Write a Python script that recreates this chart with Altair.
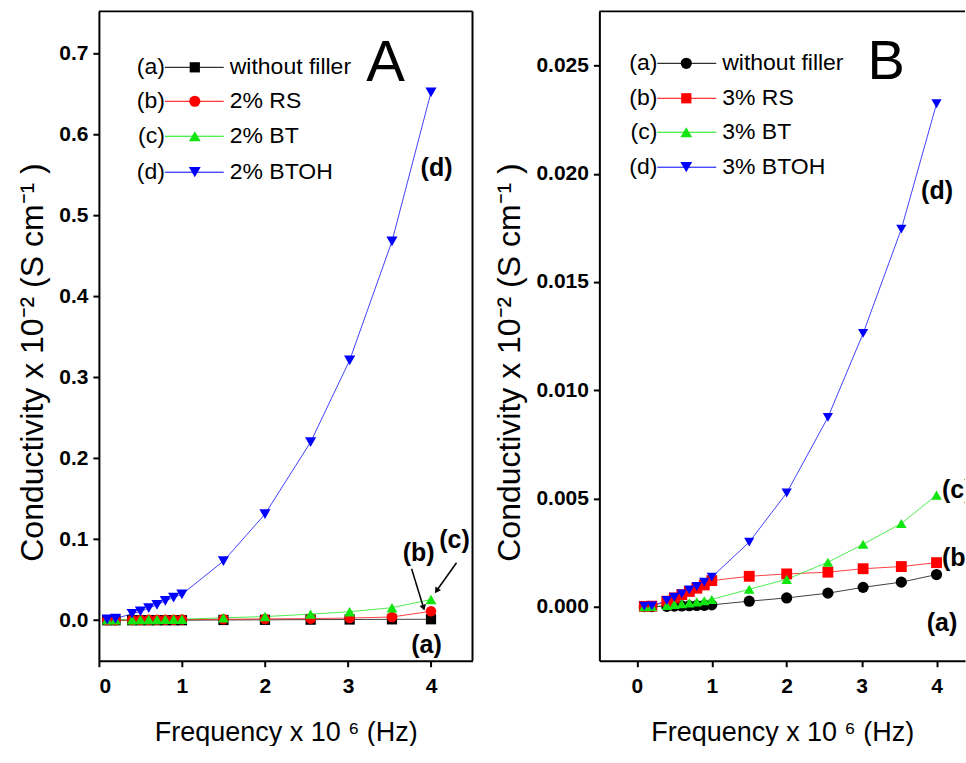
import altair as alt
import pandas as pd

# ---------------- data ----------------
freq = [0.1, 0.2, 0.4, 0.5, 0.6, 0.7, 0.8, 0.9, 1.0, 1.5, 2.0, 2.55, 3.02, 3.53, 4.0]

tags = ["(a)", "(b)", "(c)", "(d)"]
names_a = ["without filler", "2% RS", "2% BT", "2% BTOH"]
names_b = ["without filler", "3% RS", "3% BT", "3% BTOH"]

a_without = [0.0, 0.0, 0.0, 0.0, 0.0, 0.0, 0.0, 0.0, 0.0, 0.0003, 0.0005, 0.0007, 0.0009, 0.0011, 0.0012]
a_rs = [0.0, 0.0, 0.0002, 0.0003, 0.0004, 0.0005, 0.0006, 0.0007, 0.0008, 0.0012, 0.0016, 0.002, 0.0027, 0.004, 0.011]
a_bt = [0.0005, 0.0005, 0.0006, 0.0007, 0.0008, 0.0009, 0.001, 0.0011, 0.0012, 0.003, 0.0045, 0.0075, 0.0105, 0.0155, 0.0255]
a_btoh = [0.001, 0.002, 0.008, 0.011, 0.015, 0.019, 0.024, 0.028, 0.032, 0.073, 0.131, 0.220, 0.321, 0.468, 0.652]

b_without = [0.0, 0.0, 0.00001, 0.00002, 0.00003, 0.00004, 0.00005, 0.00006, 0.00008, 0.00025, 0.0004, 0.00062, 0.00089, 0.00113, 0.00148]
b_rs = [0.00001, 0.00002, 0.00025, 0.0004, 0.00055, 0.0007, 0.00085, 0.001, 0.0012, 0.0014, 0.00151, 0.00159, 0.00175, 0.00185, 0.00203]
b_bt = [0.0, 0.00001, 0.00005, 0.0001, 0.00013, 0.00017, 0.00022, 0.00027, 0.00033, 0.0008, 0.00126, 0.00205, 0.00288, 0.00384, 0.00515]
b_btoh = [0.00002, 0.00003, 0.00028, 0.00043, 0.00059, 0.00077, 0.00093, 0.00113, 0.00136, 0.00298, 0.00525, 0.00874, 0.01262, 0.01744, 0.02323]

colors = ["#000000", "#ff0000", "#11e611", "#0000ff"]
shapes_a = ["square", "circle", "triangle-up", "triangle-down"]
shapes_b = ["circle", "square", "triangle-up", "triangle-down"]

FONT = "Liberation Sans"
W_A, W_B, H = 374, 366, 650


def long_df(series, names):
    rows = []
    for name, vals in zip(names, series):
        for f, v in zip(freq, vals):
            rows.append({"freq": f, "cond": v, "series": name})
    return pd.DataFrame(rows)


dummy = pd.DataFrame({"k": [0]})


def txt(text, x, y, size, align="center", baseline="alphabetic", weight="normal", clip=False):
    return alt.Chart(dummy).mark_text(
        text=text, align=align, baseline=baseline, font=FONT, fontSize=size,
        fontWeight=weight, color="black", clip=clip
    ).encode(x=alt.value(x), y=alt.value(y))


def legend_layers(names, shapes, sizes, rows_y, tag_right, lx0, lx1, mx, label_x):
    out = []
    for i in range(4):
        y = rows_y[i]
        base = alt.Chart(dummy)
        out.append(base.mark_rule(color=colors[i], strokeWidth=1).encode(
            x=alt.value(lx0), x2=alt.value(lx1), y=alt.value(y)))
        out.append(base.mark_point(shape=shapes[i], filled=True, color=colors[i],
                                   size=sizes[i], opacity=1).encode(x=alt.value(mx), y=alt.value(y)))
        out.append(txt(tags[i], tag_right, y, 23, align="right", baseline="middle"))
        out.append(txt(names[i], label_x, y, 23, align="left", baseline="middle"))
    return out


def panel(df, names, shapes, sizes, xdom, ydom, yvals, yfmt, W, right_frame, extra):
    xenc = alt.X("freq:Q", scale=alt.Scale(domain=xdom, nice=False, zero=False),
                 axis=alt.Axis(values=[0, 1, 2, 3, 4], format="d", title="Frequency x 10 \u2076 (Hz)"))
    yenc = alt.Y("cond:Q", scale=alt.Scale(domain=ydom, nice=False, zero=False),
                 axis=alt.Axis(values=yvals, format=yfmt, titleY=351,
                               title="Conductivity x 10\u207b\u00b2 (S cm\u207b\u00b9 )"))
    col = alt.Color("series:N", scale=alt.Scale(domain=names, range=colors), legend=None)
    shp = alt.Shape("series:N", scale=alt.Scale(domain=names, range=shapes), legend=None)
    siz = alt.Size("series:N", scale=alt.Scale(domain=names, range=sizes), legend=None)
    lines = alt.Chart(df).mark_line(strokeWidth=1, opacity=0.75).encode(x=xenc, y=yenc, color=col)
    pts = alt.Chart(df).mark_point(filled=True, opacity=1).encode(x=xenc, y=yenc, color=col, shape=shp, size=siz)
    layers = [lines, pts]
    layers.append(alt.Chart(dummy).mark_rule(color="black", strokeWidth=2).encode(
        x=alt.value(0), x2=alt.value(W), y=alt.value(0)))
    if right_frame:
        layers.append(alt.Chart(dummy).mark_rule(color="black", strokeWidth=2).encode(
            x=alt.value(W), y=alt.value(0), y2=alt.value(H)))
    layers += extra
    return alt.layer(*layers).properties(width=W, height=H)


df_a = long_df([a_without, a_rs, a_bt, a_btoh], names_a)
df_b = long_df([b_without, b_rs, b_bt, b_btoh], names_b)

sizes_a = [105, 125, 140, 140]
sizes_b = [125, 105, 140, 140]

extra_a = legend_layers(names_a, shapes_a, sizes_a, [56, 90, 125, 161], 66, 66, 125, 96, 131)
extra_a += [
    txt("A", 287, 70, 58),
    txt("(d)", 338, 165, 25, weight="bold"),
    txt("(b)", 320, 550, 25, weight="bold"),
    txt("(c)", 356, 537, 25, weight="bold"),
    txt("(a)", 328, 642, 25, weight="bold"),
    alt.Chart(dummy).mark_rule(color="black", strokeWidth=1.5).encode(
        x=alt.value(313), y=alt.value(558), x2=alt.value(325), y2=alt.value(597)),
    alt.Chart(dummy).mark_rule(color="black", strokeWidth=1.5).encode(
        x=alt.value(358), y=alt.value(552), x2=alt.value(338), y2=alt.value(580)),
    alt.Chart(dummy).mark_point(shape="triangle-up", filled=True, color="black", size=45,
                                opacity=1, angle=163).encode(x=alt.value(325), y=alt.value(597)),
    alt.Chart(dummy).mark_point(shape="triangle-up", filled=True, color="black", size=45,
                                opacity=1, angle=215).encode(x=alt.value(338), y=alt.value(580)),
]

extra_b = legend_layers(names_b, shapes_b, sizes_b, [52, 87, 121, 156], 58, 58, 117, 87, 123)
extra_b += [
    txt("B", 287, 68, 56),
    txt("(d)", 338, 188, 25, weight="bold"),
    txt("(c)", 343, 487, 25, align="left", weight="bold", clip=True),
    txt("(b)", 343, 555, 25, align="left", weight="bold", clip=True),
    txt("(a)", 343, 620, 25, weight="bold"),
]

pa = panel(df_a, names_a, shapes_a, sizes_a, [0, 4.5], [-0.05, 0.752],
           [0, 0.1, 0.2, 0.3, 0.4, 0.5, 0.6, 0.7], ".1f", W_A, True, extra_a)
pb = panel(df_b, names_b, shapes_b, sizes_b, [-0.5, 4.38], [-0.0025, 0.0275],
           [0, 0.005, 0.01, 0.015, 0.02, 0.025], ".3f", W_B, False, extra_b)

chart = alt.hconcat(pa, pb, spacing=20).resolve_scale(
    color="independent", shape="independent", size="independent"
).configure(
    padding={"left": 16, "top": 10, "right": 0, "bottom": 0},
    background="white",
).configure_view(stroke=None).configure_axis(
    grid=False,
    domainColor="black", domainWidth=2,
    tickColor="black", tickWidth=2, tickSize=6,
    labelFont=FONT, labelFontSize=21, labelFontWeight="bold", labelColor="black", labelPadding=5,
    titleFont=FONT, titleFontWeight="normal", titleColor="black",
).configure_axisX(
    titleFontSize=27, titlePadding=23, labelPadding=9,
).configure_axisY(
    titleFontSize=32, titlePadding=9,
)

chart.save("out.html", embed_options={"renderer": "svg", "actions": False})
